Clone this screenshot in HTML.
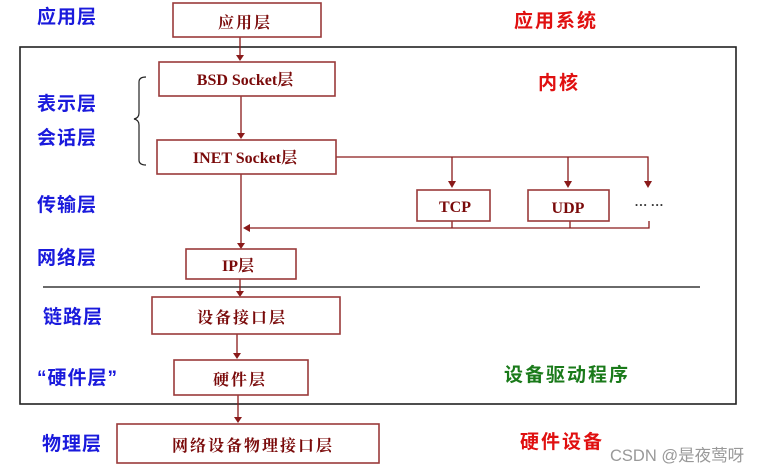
<!DOCTYPE html>
<html><head><meta charset="utf-8"><style>
html,body{margin:0;padding:0;background:#fff;}
svg{display:block;}
text{font-family:"Liberation Serif","Noto Serif CJK SC","Noto Sans CJK SC",serif;font-weight:bold;}
.b{fill:#1a1adc;font-family:"Liberation Sans","Noto Sans CJK SC",sans-serif;font-size:19px;letter-spacing:1px;}
.r{fill:#7a0a0a;font-size:16px;text-anchor:middle;}
.c{letter-spacing:2px;}
.box{fill:#fff;stroke:#9a3a3a;stroke-width:1.6;}
.ln{stroke:#8a1a1a;stroke-width:1.3;fill:none;}
.ar{fill:#8a1a1a;}
.rt{font-size:19px;letter-spacing:2px;font-family:"Liberation Sans","Noto Sans CJK SC",sans-serif;}
</style></head><body>
<svg width="762" height="472" viewBox="0 0 762 472">
<rect x="20" y="47" width="716" height="357" fill="none" stroke="#222" stroke-width="1.6"/>
<line x1="43" y1="287" x2="700" y2="287" stroke="#111" stroke-width="1.2"/>
<g class="ln">
<line x1="240" y1="37" x2="240" y2="58"/>
<line x1="241" y1="96" x2="241" y2="136"/>
<line x1="241" y1="174" x2="241" y2="245"/>
<polyline points="336,157 648,157 648,183"/>
<line x1="452" y1="157" x2="452" y2="184"/>
<line x1="568" y1="157" x2="568" y2="184"/>
<polyline points="452,221 452,228"/>
<polyline points="570,221 570,228"/>
<polyline points="649,221 649,228 247,228"/>
<line x1="240" y1="279" x2="240" y2="293"/>
<line x1="237" y1="334" x2="237" y2="356"/>
<line x1="238" y1="395" x2="238" y2="420"/>
</g>
<g class="ar">
<polygon points="236,55 244,55 240,61"/>
<polygon points="237,133 245,133 241,139"/>
<polygon points="237,243 245,243 241,249"/>
<polygon points="448,181 456,181 452,188"/>
<polygon points="564,181 572,181 568,188"/>
<polygon points="644,181 652,181 648,188"/>
<polygon points="250,224 250,232 243,228"/>
<polygon points="236,291 244,291 240,297"/>
<polygon points="233,353 241,353 237,359"/>
<polygon points="234,417 242,417 238,423"/>
</g>
<rect class="box" x="173" y="3" width="148" height="34"/>
<text class="r c" x="245" y="28" font-size="19">应用层</text>
<rect class="box" x="159" y="62" width="176" height="34"/>
<text class="r" x="245" y="85" font-size="16">BSD Socket层</text>
<rect class="box" x="157" y="140" width="179" height="34"/>
<text class="r" x="245" y="163" font-size="16">INET Socket层</text>
<rect class="box" x="417" y="190" width="73" height="31"/>
<text class="r" x="455" y="212" font-size="16">TCP</text>
<rect class="box" x="528" y="190" width="81" height="31"/>
<text class="r" x="568" y="213" font-size="16">UDP</text>
<text x="649" y="209" fill="#333" font-size="13" text-anchor="middle">··· ···</text>
<rect class="box" x="186" y="249" width="110" height="30"/>
<text class="r" x="238" y="271" font-size="16">IP层</text>
<rect class="box" x="152" y="297" width="188" height="37"/>
<text class="r c" x="242" y="323" font-size="19">设备接口层</text>
<rect class="box" x="174" y="360" width="134" height="35"/>
<text class="r c" x="240" y="385" font-size="19">硬件层</text>
<rect class="box" x="117" y="424" width="262" height="39"/>
<text class="r c" x="253" y="451" font-size="19">网络设备物理接口层</text>
<path d="M146,77 Q139,77 139,82 L139,113 Q139,118 134,119 Q139,120 139,125 L139,160 Q139,165 146,165" fill="none" stroke="#222" stroke-width="1.2"/>
<text class="b" x="37" y="23">应用层</text>
<text class="b" x="37" y="110">表示层</text>
<text class="b" x="37" y="144">会话层</text>
<text class="b" x="37" y="211">传输层</text>
<text class="b" x="37" y="264">网络层</text>
<text class="b" x="43" y="323">链路层</text>
<text class="b" x="37" y="384">“硬件层”</text>
<text class="b" x="42" y="450">物理层</text>
<text class="rt" x="514" y="27" fill="#e01010">应用系统</text>
<text class="rt" x="538" y="89" fill="#e01010">内核</text>
<text class="rt" x="504" y="381" fill="#1a7a1a">设备驱动程序</text>
<text class="rt" x="520" y="448" fill="#e01010">硬件设备</text>
<text x="610" y="461" fill="#999" font-size="16.5" style="font-weight:normal;font-family:'Liberation Sans','Noto Sans CJK SC',sans-serif">CSDN @是夜莺呀</text>
</svg>
</body></html>
